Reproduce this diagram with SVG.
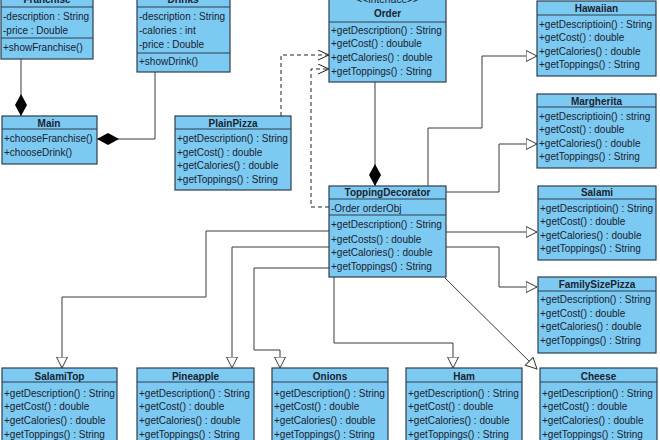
<svg xmlns="http://www.w3.org/2000/svg" width="660" height="440" viewBox="0 0 660 440">
<defs>
<style>
.box{fill:#7cc9f1;stroke:#2c3e50;stroke-width:1.2}
.sep{stroke:#2c3e50;stroke-width:1}
text{font-family:"Liberation Sans",Arial,sans-serif;font-size:10px;fill:#1a2330}
.t{font-weight:bold;text-anchor:middle}
.c{fill:none;stroke:#3a3a3a;stroke-width:1}
.d{fill:none;stroke:#222;stroke-width:1;stroke-dasharray:4,3}
</style>
<marker id="tri" markerUnits="userSpaceOnUse" markerWidth="13" markerHeight="13" refX="11.5" refY="6" orient="auto">
<path d="M0.5,0.5 L11.5,6 L0.5,11.5 z" fill="#fff" stroke="#3a3a3a" stroke-width="1"/>
</marker>
<marker id="open" markerUnits="userSpaceOnUse" markerWidth="13" markerHeight="12" refX="11.5" refY="5.5" orient="auto">
<path d="M0.5,0.5 L11.5,5.5 L0.5,10.5" fill="none" stroke="#222" stroke-width="1"/>
</marker>
<marker id="dia" markerUnits="userSpaceOnUse" markerWidth="23" markerHeight="13" refX="22" refY="6" orient="auto">
<path d="M0,6 L11,0 L22,6 L11,12 z" fill="#000"/>
</marker>
</defs>
<rect width="660" height="440" fill="#fff"/>

<g id="connectors">
<path class="c" d="M21,59 L21,116" marker-end="url(#dia)"/>
<path class="c" d="M155,72 L155,139 L97,139" marker-end="url(#dia)"/>
<path class="c" d="M375,82 L375,186" marker-end="url(#dia)"/>
<path class="d" d="M281,116 L281,55 L329,55" marker-end="url(#open)"/>
<path class="d" d="M329,207 L311,207 L311,69 L329,69" marker-end="url(#open)"/>
<path class="c" d="M428,186 L428,128 L482,128 L482,56 L537,56" marker-end="url(#tri)"/>
<path class="c" d="M446,192 L499,192 L499,144 L537,144" marker-end="url(#tri)"/>
<path class="c" d="M446,232 L537,232" marker-end="url(#tri)"/>
<path class="c" d="M446,247 L499,247 L499,287 L537,287" marker-end="url(#tri)"/>
<path class="c" d="M329,231 L206,231 L206,297 L62,297 L62,368" marker-end="url(#tri)"/>
<path class="c" d="M329,247 L232,247 L232,368" marker-end="url(#tri)"/>
<path class="c" d="M329,268 L254,268 L254,350 L280,350 L280,368" marker-end="url(#tri)"/>
<path class="c" d="M334,277 L334,343 L453,343 L453,368" marker-end="url(#tri)"/>
<path class="c" d="M445,278 L537,369" marker-end="url(#tri)"/>
</g>

<g id="Franchise">
<rect class="box" x="1" y="-10" width="92" height="69"/>
<line class="sep" x1="1" y1="7" x2="93" y2="7"/>
<line class="sep" x1="1" y1="38" x2="93" y2="38"/>
<text class="t" x="47" y="3">Franchise</text>
<text x="3" y="20">-description : String</text>
<text x="3" y="34">-price : Double</text>
<text x="3" y="51">+showFranchise()</text>
</g>

<g id="Drinks">
<rect class="box" x="137" y="-10" width="93" height="82"/>
<line class="sep" x1="137" y1="7" x2="230" y2="7"/>
<line class="sep" x1="137" y1="53" x2="230" y2="53"/>
<text class="t" x="183" y="3">Drinks</text>
<text x="139" y="20">-description : String</text>
<text x="139" y="34">-calories : int</text>
<text x="139" y="47.5">-price : Double</text>
<text x="139" y="65">+showDrink()</text>
</g>

<g id="Main">
<rect class="box" x="2" y="116" width="95" height="48"/>
<line class="sep" x1="2" y1="129" x2="97" y2="129"/>
<text class="t" x="49" y="127">Main</text>
<text x="4" y="142">+chooseFranchise()</text>
<text x="4" y="156">+chooseDrink()</text>
</g>

<g id="PlainPizza">
<rect class="box" x="175" y="116" width="116" height="74"/>
<line class="sep" x1="175" y1="129" x2="291" y2="129"/>
<text class="t" x="233" y="127">PlainPizza</text>
<text x="177" y="142">+getDescription() : String</text>
<text x="177" y="155.5">+getCost() : double</text>
<text x="177" y="169">+getCalories() : double</text>
<text x="177" y="183">+getToppings() : String</text>
</g>

<g id="Order">
<rect class="box" x="329" y="-10" width="117" height="92"/>
<line class="sep" x1="329" y1="22" x2="446" y2="22"/>
<text x="387.5" y="3" text-anchor="middle">&lt;&lt;Interface&gt;&gt;</text>
<text class="t" x="387.5" y="17">Order</text>
<text x="331" y="34">+getDescription() : String</text>
<text x="331" y="47">+getCost() : doubule</text>
<text x="331" y="61">+getCalories() : double</text>
<text x="331" y="75">+getToppings() : String</text>
</g>

<g id="ToppingDecorator">
<rect class="box" x="329" y="186" width="117" height="91"/>
<line class="sep" x1="329" y1="199" x2="446" y2="199"/>
<line class="sep" x1="329" y1="215" x2="446" y2="215"/>
<text class="t" x="387.5" y="196">ToppingDecorator</text>
<text x="331" y="212">-Order orderObj</text>
<text x="331" y="228">+getDescription() : String</text>
<text x="331" y="242.5">+getCosts() : double</text>
<text x="331" y="256">+getCalories() : double</text>
<text x="331" y="270">+getToppings() : String</text>
</g>

<g id="Hawaiian">
<rect class="box" x="537" y="1" width="119" height="75"/>
<line class="sep" x1="537" y1="15" x2="656" y2="15"/>
<text class="t" x="596.5" y="12">Hawaiian</text>
<text x="539" y="27.5">+getDescriptioin() : String</text>
<text x="539" y="41">+getCost() : double</text>
<text x="539" y="54.5">+getCalories() : double</text>
<text x="539" y="68">+getToppings() : String</text>
</g>

<g id="Margherita">
<rect class="box" x="537" y="94" width="119" height="74"/>
<line class="sep" x1="537" y1="107" x2="656" y2="107"/>
<text class="t" x="596.5" y="104.5">Margherita</text>
<text x="539" y="119.5">+getDescriptioin() : string</text>
<text x="539" y="133">+getCost() : double</text>
<text x="539" y="146.5">+getCalories() : double</text>
<text x="539" y="160">+getToppings() : String</text>
</g>

<g id="Salami">
<rect class="box" x="538" y="186" width="118" height="74"/>
<line class="sep" x1="538" y1="199" x2="656" y2="199"/>
<text class="t" x="597" y="196">Salami</text>
<text x="540" y="212">+getDescriptioin() : String</text>
<text x="540" y="225">+getCost() : double</text>
<text x="540" y="238.5">+getCalories() : double</text>
<text x="540" y="252">+getToppings() : String</text>
</g>

<g id="FamilySizePizza">
<rect class="box" x="538" y="277" width="118" height="76"/>
<line class="sep" x1="538" y1="291" x2="656" y2="291"/>
<text class="t" x="597" y="288">FamilySizePizza</text>
<text x="540" y="303">+getDescription() : String</text>
<text x="540" y="316.5">+getCost() : double</text>
<text x="540" y="330">+getCalories() : double</text>
<text x="540" y="343.5">+getToppings() : String</text>
</g>

<g id="SalamiTop">
<rect class="box" x="2" y="368" width="115" height="80"/>
<line class="sep" x1="2" y1="382" x2="117" y2="382"/>
<text class="t" x="59.5" y="380">SalamiTop</text>
<text x="4" y="397">+getDescription() : String</text>
<text x="4" y="410">+getCost() : double</text>
<text x="4" y="424">+getCalories() : double</text>
<text x="4" y="437.5">+getToppings() : String</text>
</g>

<g id="Pineapple">
<rect class="box" x="137" y="368" width="117" height="80"/>
<line class="sep" x1="137" y1="382" x2="254" y2="382"/>
<text class="t" x="195.5" y="380">Pineapple</text>
<text x="139" y="397">+getDescription() : String</text>
<text x="139" y="410">+getCost() : double</text>
<text x="139" y="424">+getCalories() : double</text>
<text x="139" y="437.5">+getToppings() : String</text>
</g>

<g id="Onions">
<rect class="box" x="272" y="368" width="116" height="80"/>
<line class="sep" x1="272" y1="382" x2="388" y2="382"/>
<text class="t" x="330" y="380">Onions</text>
<text x="274" y="397">+getDescription() : String</text>
<text x="274" y="410">+getCost() : double</text>
<text x="274" y="424">+getCalories() : double</text>
<text x="274" y="437.5">+getToppings() : String</text>
</g>

<g id="Ham">
<rect class="box" x="406" y="368" width="116" height="80"/>
<line class="sep" x1="406" y1="382" x2="522" y2="382"/>
<text class="t" x="464" y="380">Ham</text>
<text x="408" y="397">+getDescription() : String</text>
<text x="408" y="410">+getCost() : double</text>
<text x="408" y="424">+getCalories() : double</text>
<text x="408" y="437.5">+getToppings() : String</text>
</g>

<g id="Cheese">
<rect class="box" x="540" y="368" width="117" height="80"/>
<line class="sep" x1="540" y1="382" x2="657" y2="382"/>
<text class="t" x="598.5" y="380">Cheese</text>
<text x="542" y="397">+getDescription() : String</text>
<text x="542" y="410">+getCost() : double</text>
<text x="542" y="424">+getCalories() : double</text>
<text x="542" y="437.5">+getToppings() : String</text>
</g>
</svg>
